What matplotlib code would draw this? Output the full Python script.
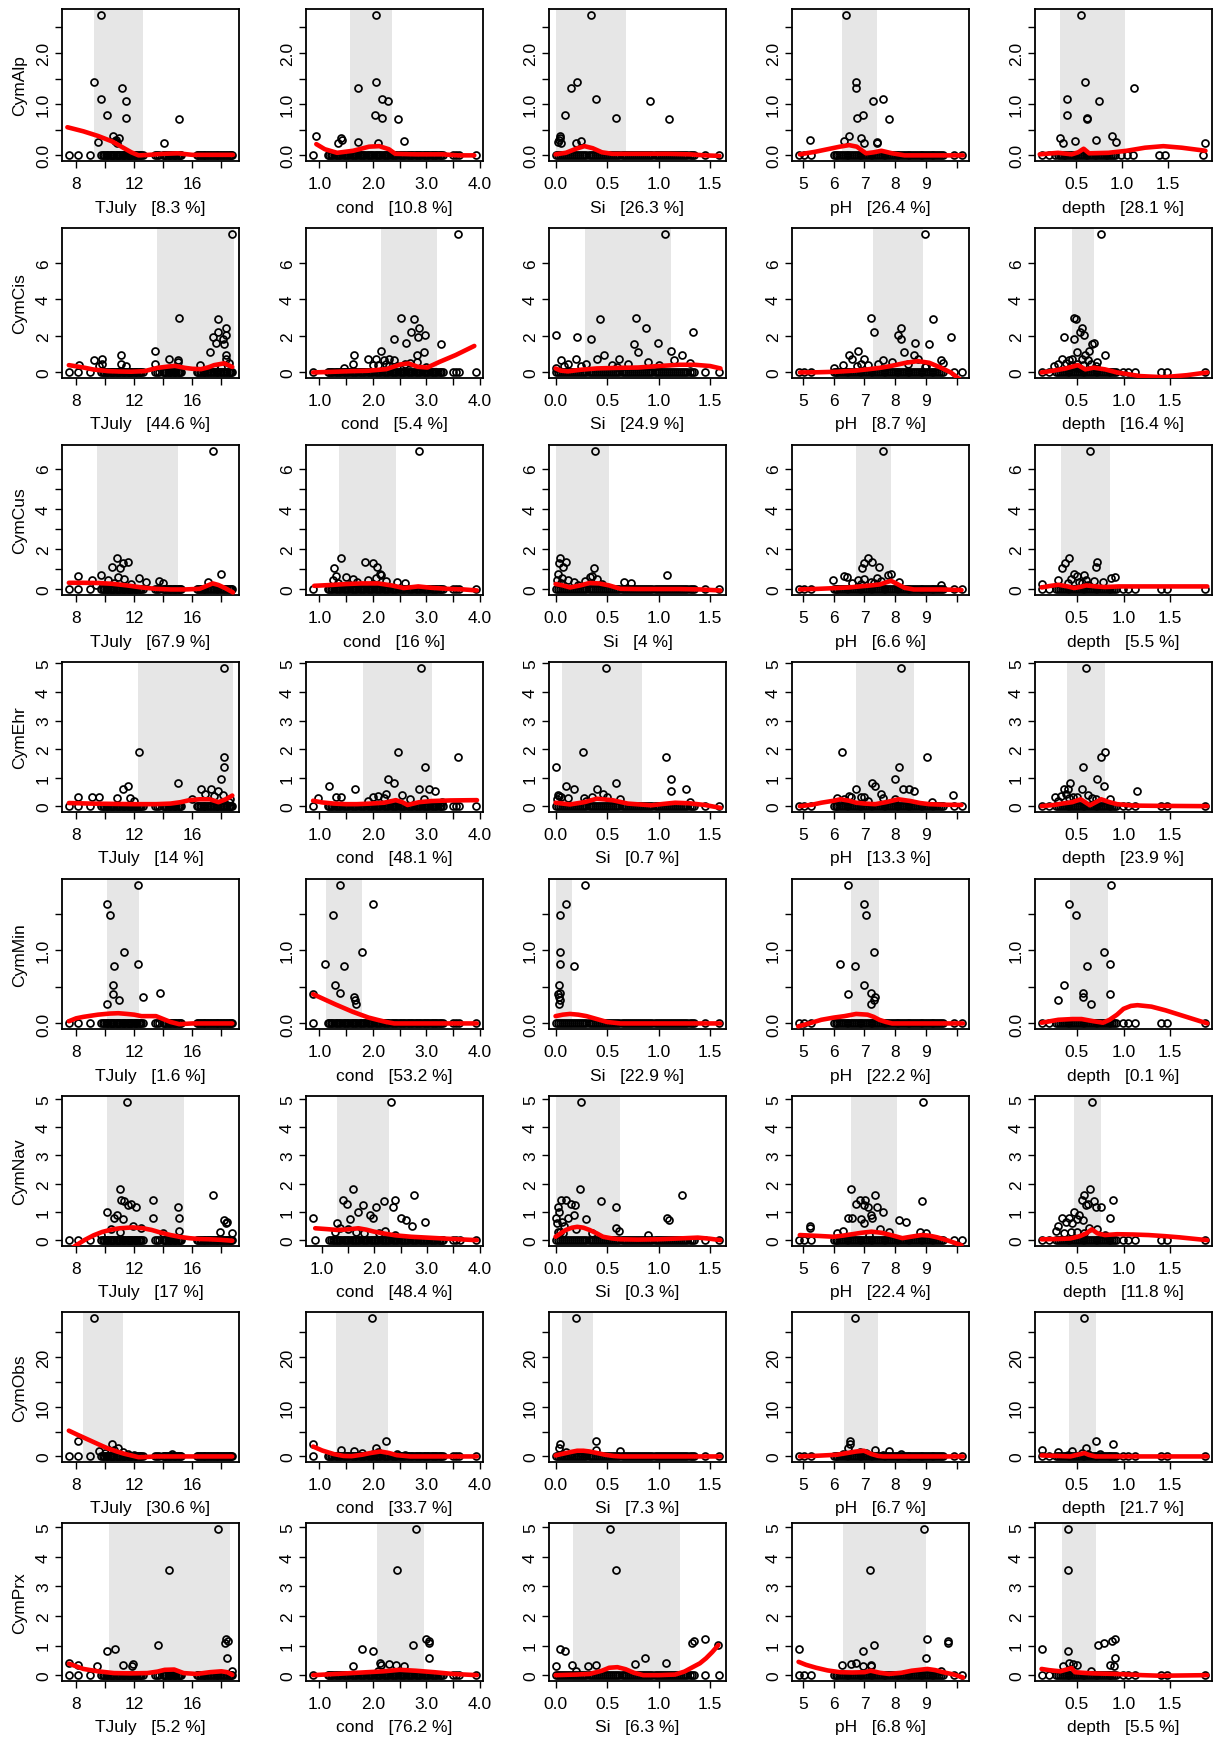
import matplotlib
matplotlib.use("Agg")
import matplotlib.pyplot as plt

plt.rcParams['font.family'] = ['Liberation Sans', 'DejaVu Sans']

# ---------------- data ----------------
species = ["CymAlp", "CymCis", "CymCus", "CymEhr", "CymMin", "CymNav", "CymObs", "CymPrx"]
variables = ["TJuly", "cond", "Si", "pH", "depth"]

# sites where the taxon is absent (abundance 0), per environmental variable
TJuly_zero = [7.48, 8.13, 8.98, 9.74, 9.86, 9.95, 10.04, 10.12, 10.2, 10.3, 10.38, 10.46, 10.55, 10.63,
              10.72, 10.8, 10.88, 10.97, 11.05, 11.13, 11.22, 11.3, 11.38, 11.47, 11.55, 11.63, 11.72,
              11.8, 11.88, 11.97, 12.05, 12.13, 12.22, 12.3, 12.4, 12.5, 12.62, 13.45, 13.58, 13.7,
              13.95, 14.05, 14.14, 14.22, 14.3, 14.4, 14.48, 14.56, 14.65, 14.73, 14.82, 14.9, 14.98,
              15.07, 15.15, 15.23, 16.3, 16.4, 16.5, 16.6, 16.7, 16.8, 16.9, 17.0, 17.1, 17.2, 17.3,
              17.4, 17.5, 17.6, 17.7, 17.8, 17.9, 18.0, 18.1, 18.2, 18.3, 18.4, 18.5, 18.6, 18.68, 18.76]
cond_zero = [0.87, 1.15, 1.18, 1.21, 1.24, 1.27, 1.3, 1.33, 1.36, 1.39, 1.42, 1.45, 1.48, 1.51, 1.54,
             1.57, 1.6, 1.63, 1.66, 1.69, 1.72, 1.75, 1.78, 1.81, 1.84, 1.87, 1.9, 1.93, 1.96, 1.99, 2.02,
             2.05, 2.08, 2.11, 2.14, 2.17, 2.2, 2.23, 2.26, 2.29, 2.32, 2.35, 2.38, 2.41, 2.44, 2.47, 2.5,
             2.53, 2.56, 2.59, 2.62, 2.65, 2.68, 2.71, 2.74, 2.77, 2.8, 2.83, 2.86, 2.89, 2.92, 2.95,
             2.98, 3.01, 3.04, 3.07, 3.1, 3.13, 3.16, 3.19, 3.22, 3.25, 3.28, 3.31, 3.5, 3.56, 3.62, 3.94]
Si_zero = [0.0, 0.02, 0.04, 0.06, 0.08, 0.1, 0.12, 0.14, 0.16, 0.18, 0.2, 0.22, 0.24, 0.26, 0.28, 0.3,
           0.32, 0.34, 0.36, 0.38, 0.4, 0.42, 0.44, 0.46, 0.48, 0.5, 0.52, 0.54, 0.56, 0.58, 0.6, 0.62,
           0.64, 0.66, 0.68, 0.7, 0.72, 0.74, 0.76, 0.78, 0.8, 0.82, 0.84, 0.86, 0.88, 0.9, 0.92, 0.94,
           0.96, 0.98, 1.0, 1.02, 1.04, 1.06, 1.08, 1.1, 1.12, 1.14, 1.16, 1.18, 1.2, 1.22, 1.24, 1.26,
           1.28, 1.3, 1.32, 1.34, 1.45, 1.59]
pH_zero = [4.86, 5.03, 5.25, 6.0, 6.06, 6.12, 6.18, 6.24, 6.3, 6.36, 6.42, 6.48, 6.54, 6.6, 6.66, 6.72,
           6.78, 6.84, 6.9, 6.96, 7.02, 7.08, 7.14, 7.2, 7.26, 7.32, 7.38, 7.44, 7.5, 7.56, 7.62, 7.68,
           7.74, 7.8, 7.86, 7.92, 7.98, 8.04, 8.1, 8.16, 8.22, 8.28, 8.34, 8.4, 8.46, 8.52, 8.58, 8.64,
           8.7, 8.76, 8.82, 8.88, 8.94, 9.0, 9.06, 9.12, 9.18, 9.24, 9.3, 9.36, 9.42, 9.48, 9.54, 9.9, 10.18]
depth_zero = [0.12, 0.2, 0.27, 0.3, 0.32, 0.34, 0.36, 0.38, 0.4, 0.42, 0.44, 0.46, 0.48, 0.5, 0.52, 0.54,
              0.56, 0.58, 0.6, 0.62, 0.64, 0.66, 0.68, 0.7, 0.72, 0.74, 0.76, 0.78, 0.8, 0.82, 0.84, 0.86,
              0.88, 0.9, 0.92, 0.99, 1.05, 1.12, 1.4, 1.47, 1.88]
zero_sites = {"TJuly": TJuly_zero, "cond": cond_zero, "Si": Si_zero, "pH": pH_zero, "depth": depth_zero}

# non-zero abundances and their environmental values
CymAlp_y = [2.75, 1.43, 1.32, 1.11, 1.07, 0.79, 0.73, 0.71, 0.38, 0.33, 0.31, 0.28, 0.27, 0.25, 0.24]
CymAlp_x = {
    "TJuly": [9.74, 9.21, 11.16, 9.74, 11.46, 10.13, 11.46, 15.11, 10.54, 10.93, 10.75, 10.65, 9.48, 14.03, 10.8],
    "cond": [2.06, 2.06, 1.72, 2.18, 2.28, 2.04, 2.17, 2.47, 0.94, 1.40, 1.42, 2.59, 1.72, 2.09, 1.34],
    "Si": [0.346, 0.204, 0.147, 0.39, 0.913, 0.093, 0.59, 1.10, 0.04, 0.04, 0.03, 0.25, 0.02, 0.20, 0.05],
    "pH": [6.41, 6.71, 6.71, 7.59, 7.27, 6.95, 6.76, 7.79, 6.50, 6.90, 5.22, 6.34, 7.4, 7.0, 7.42],
    "depth": [0.55, 0.59, 1.13, 0.40, 0.75, 0.40, 0.62, 0.62, 0.89, 0.32, 0.71, 0.48, 0.93, 0.35, 1.91]}

CymCis_y = [7.6, 3.0, 2.95, 2.44, 2.22, 2.04, 1.95, 1.85, 1.6, 1.58, 1.18, 1.13, 0.95, 0.95, 0.76, 0.76,
            0.71, 0.7, 0.67, 0.55, 0.5, 0.44, 0.44, 0.44, 0.4, 0.4, 0.36, 0.36, 0.3, 0.25]
CymCis_x = {
    "TJuly": [18.75, 15.1, 17.75, 18.3, 17.75, 18.35, 17.45, 18.1, 17.6, 18.2, 13.4, 17.2, 11.1, 18.35, 18.3,
              9.8, 14.4, 9.2, 15.0, 15.0, 18.5, 9.75, 11.1, 13.4, 16.5, 8.2, 11.4, 9.6, 18.0, 17.5],
    "cond": [3.59, 2.53, 2.77, 2.87, 2.72, 2.97, 2.85, 2.39, 2.62, 3.27, 2.15, 2.95, 1.65, 2.82, 2.3, 1.9,
             2.05, 2.2, 2.4, 2.82, 2.7, 1.62, 2.25, 2.6, 2.1, 2.0, 2.45, 2.3, 3.0, 1.45],
    "Si": [1.06, 0.78, 0.43, 0.88, 1.33, 0.0, 0.21, 0.34, 0.99, 0.76, 1.12, 0.8, 0.47, 1.23, 0.62, 0.2,
           0.4, 1.15, 0.05, 0.9, 1.3, 0.12, 0.3, 0.7, 0.55, 1.0, 0.25, 0.08, 0.6, 0.0],
    "pH": [8.98, 7.22, 9.23, 8.2, 7.3, 8.1, 9.8, 8.18, 8.65, 9.1, 6.8, 8.28, 6.5, 8.6, 7.0, 8.75, 6.6, 7.6,
           9.5, 7.9, 9.55, 6.9, 7.45, 8.4, 6.3, 7.1, 9.0, 6.75, 8.95, 6.0],
    "depth": [0.76, 0.47, 0.49, 0.55, 0.53, 0.58, 0.36, 0.47, 0.68, 0.66, 0.63, 0.5, 0.59, 0.8, 0.34, 0.45,
              0.55, 0.42, 0.62, 0.72, 0.38, 0.3, 0.5, 0.65, 0.57, 0.44, 0.25, 0.7, 0.48, 0.52]}

CymCus_y = [6.9, 1.57, 1.35, 1.32, 1.1, 1.07, 0.77, 0.73, 0.65, 0.6, 0.55, 0.5, 0.48, 0.45, 0.4, 0.37,
            0.35, 0.3, 0.3, 0.25, 0.2]
CymCus_x = {
    "TJuly": [17.4, 10.8, 11.6, 11.2, 10.5, 11.0, 18.0, 9.7, 8.1, 10.9, 12.3, 11.3, 9.1, 10.2, 13.7, 17.1,
              12.8, 14.0, 10.6, 11.8, 9.4],
    "cond": [2.87, 1.41, 1.85, 2.0, 2.07, 1.28, 2.14, 2.15, 1.3, 1.5, 2.05, 1.62, 1.25, 1.9, 2.25, 2.45,
             1.7, 2.6, 1.35, 2.0, 1.55],
    "Si": [0.38, 0.04, 0.1, 0.03, 0.07, 0.37, 0.02, 1.08, 0.35, 0.33, 0.06, 0.4, 0.12, 0.01, 0.29, 0.18,
           0.66, 0.05, 0.73, 0.45, 0.22],
    "pH": [7.6, 7.1, 7.23, 6.98, 7.48, 6.93, 7.86, 7.75, 6.35, 6.42, 7.4, 7.0, 5.97, 6.8, 7.55, 8.11, 7.2,
           6.6, 7.3, 6.9, 9.49],
    "depth": [0.64, 0.41, 0.72, 0.37, 0.7, 0.34, 0.47, 0.58, 0.5, 0.91, 0.87, 0.44, 0.6, 0.3, 0.68, 0.52,
              0.78, 0.4, 0.55, 0.13, 0.62]}

CymEhr_y = [4.85, 1.91, 1.74, 1.36, 0.95, 0.83, 0.72, 0.62, 0.6, 0.6, 0.55, 0.45, 0.4, 0.35, 0.34, 0.34,
            0.33, 0.3, 0.28, 0.25, 0.25, 0.2, 0.15]
CymEhr_x = {
    "TJuly": [18.2, 12.3, 18.2, 18.2, 18.0, 15.0, 11.6, 17.3, 11.2, 16.6, 17.8, 16.9, 18.1, 17.5, 8.1, 9.1,
              9.6, 10.8, 11.7, 18.6, 16.0, 12.0, 18.5],
    "cond": [2.9, 2.47, 3.59, 2.98, 2.29, 2.4, 1.17, 2.87, 1.66, 3.05, 3.16, 2.25, 2.55, 2.1, 1.41, 2.0,
             1.3, 2.2, 0.98, 2.7, 2.95, 1.9, 3.3],
    "Si": [0.49, 0.27, 1.07, 0.0, 1.12, 0.59, 0.1, 0.4, 0.18, 1.27, 1.12, 0.46, 0.02, 0.03, 0.35, 0.05,
           0.5, 0.28, 0.12, 0.63, 0.01, 0.3, 1.3],
    "pH": [8.18, 6.27, 9.04, 8.11, 7.98, 7.23, 7.35, 8.25, 6.73, 8.45, 8.6, 7.55, 9.87, 6.5, 6.55, 6.9,
           7.0, 6.1, 7.6, 6.35, 8.0, 7.1, 9.2],
    "depth": [0.6, 0.8, 0.76, 0.57, 0.72, 0.43, 0.79, 0.4, 0.36, 0.55, 1.14, 0.38, 0.62, 0.33, 0.26, 0.46,
              0.5, 0.66, 0.42, 0.85, 0.7, 0.3, 0.75]}

CymMin_y = [1.9, 1.63, 1.48, 0.98, 0.81, 0.78, 0.53, 0.42, 0.40, 0.36, 0.32, 0.26]
CymMin_x = {
    "TJuly": [12.24, 10.11, 10.34, 11.32, 12.24, 10.62, 10.53, 13.78, 10.53, 12.63, 10.97, 10.11],
    "cond": [1.38, 2.0, 1.26, 1.79, 1.1, 1.46, 1.29, 1.38, 0.88, 1.65, 1.66, 1.69],
    "Si": [0.29, 0.1, 0.04, 0.04, 0.04, 0.18, 0.03, 0.04, 0.02, 0.03, 0.04, 0.03],
    "pH": [6.47, 6.98, 7.05, 7.3, 6.22, 6.68, 6.98, 7.2, 6.47, 7.35, 7.3, 7.22],
    "depth": [0.87, 0.41, 0.49, 0.79, 0.86, 0.61, 0.36, 0.57, 0.86, 0.57, 0.3, 0.65]}

CymNav_y = [4.9, 1.8, 1.61, 1.43, 1.43, 1.38, 1.3, 1.25, 1.19, 1.19, 1.02, 0.9, 0.8, 0.78, 0.78, 0.75,
            0.72, 0.65, 0.62, 0.5, 0.45, 0.4, 0.35, 0.31, 0.3, 0.25, 0.25, 0.2]
CymNav_x = {
    "TJuly": [11.5, 11.0, 17.4, 11.1, 13.3, 11.3, 11.8, 11.6, 12.1, 15.0, 10.1, 10.8, 10.6, 15.1, 13.3,
              11.2, 18.2, 18.4, 18.3, 11.9, 12.5, 10.4, 15.1, 17.9, 11.0, 18.7, 14.0, 9.7],
    "cond": [2.31, 1.6, 2.75, 1.41, 2.39, 2.18, 1.49, 1.78, 2.36, 2.04, 1.7, 1.92, 1.97, 0.83, 2.5, 1.55,
             2.6, 2.97, 1.3, 2.72, 1.35, 1.5, 2.2, 1.25, 1.65, 2.1, 1.8, 2.4],
    "Si": [0.25, 0.24, 1.23, 0.05, 0.1, 0.44, 0.15, 0.19, 0.59, 0.02, 0.03, 0.18, 1.08, 0.0, 0.12, 0.3,
           1.1, 0.06, 0.01, 0.08, 0.59, 0.2, 0.62, 0.04, 0.02, 0.35, 0.07, 0.9],
    "pH": [8.91, 6.55, 7.35, 6.85, 7.03, 8.86, 6.73, 6.98, 7.4, 7.1, 7.6, 7.2, 6.47, 6.6, 7.25, 6.9, 8.11,
           8.36, 7.0, 5.22, 5.22, 7.5, 6.3, 8.8, 7.8, 6.1, 9.0, 7.15],
    "depth": [0.66, 0.64, 0.58, 0.55, 0.89, 0.68, 0.62, 0.6, 0.76, 0.7, 0.47, 0.52, 0.85, 0.34, 0.41, 0.5,
              0.56, 0.38, 0.45, 0.3, 0.63, 0.72, 0.27, 0.44, 0.5, 0.58, 0.36, 0.8]}

CymObs_y = [28, 3.05, 2.5, 1.7, 1.2, 1.0, 0.8, 0.6, 0.5, 0.4, 0.3]
CymObs_x = {
    "TJuly": [9.2, 8.1, 10.5, 10.9, 10.6, 9.6, 11.2, 10.0, 14.6, 11.6, 12.0],
    "cond": [1.98, 2.25, 0.88, 2.05, 1.4, 1.65, 2.1, 1.8, 2.45, 2.0, 2.6],
    "Si": [0.2, 0.39, 0.04, 0.03, 0.39, 0.63, 0.1, 0.25, 0.15, 0.3, 0.05],
    "pH": [6.68, 6.52, 6.52, 6.45, 7.35, 7.8, 6.85, 7.05, 8.2, 6.3, 7.6],
    "depth": [0.58, 0.7, 0.89, 0.6, 0.13, 0.45, 0.3, 0.55, 0.62, 0.75, 0.4]}

CymPrx_y = [4.95, 3.55, 1.23, 1.17, 1.1, 1.01, 0.9, 0.81, 0.57, 0.42, 0.39, 0.33, 0.33, 0.31, 0.31, 0.15]
CymPrx_x = {
    "TJuly": [17.75, 14.42, 18.32, 18.47, 18.26, 13.62, 10.68, 10.15, 18.37, 7.5, 11.9, 11.25, 8.15, 9.47,
              11.85, 18.75],
    "cond": [2.8, 2.45, 2.99, 3.06, 3.06, 2.75, 1.79, 2.0, 3.06, 2.14, 2.31, 2.15, 2.43, 2.58, 1.63, 2.1],
    "Si": [0.53, 0.59, 1.45, 1.34, 1.32, 1.58, 0.045, 0.093, 0.87, 1.07, 0.775, 0.39, 0.16, 0.0, 0.31, 0.2],
    "pH": [8.92, 7.18, 9.04, 9.7, 9.7, 7.3, 4.86, 6.95, 9.0, 6.72, 6.55, 6.28, 7.2, 6.95, 7.22, 9.5],
    "depth": [0.4, 0.4, 0.91, 0.88, 0.79, 0.73, 0.13, 0.4, 0.91, 0.42, 0.46, 0.86, 0.5, 0.9, 0.35, 0.65]}

# shaded optimum ranges (grey bands)
CymAlp_band = {"TJuly": (9.21, 12.61), "cond": (1.57, 2.35), "Si": (0.0, 0.68), "pH": (6.26, 7.41), "depth": (0.32, 1.03)}
CymCis_band = {"TJuly": (13.6, 18.9), "cond": (2.16, 3.2), "Si": (0.29, 1.12), "pH": (7.27, 8.9), "depth": (0.45, 0.68)}
CymCus_band = {"TJuly": (9.44, 15.04), "cond": (1.37, 2.43), "Si": (0.0, 0.52), "pH": (6.73, 7.86), "depth": (0.33, 0.85)}
CymEhr_band = {"TJuly": (12.26, 18.8), "cond": (1.82, 3.1), "Si": (0.064, 0.84), "pH": (6.73, 8.61), "depth": (0.39, 0.8)}
CymMin_band = {"TJuly": (10.11, 12.35), "cond": (1.12, 1.79), "Si": (0.0, 0.16), "pH": (6.55, 7.48), "depth": (0.43, 0.83)}
CymNav_band = {"TJuly": (10.13, 15.41), "cond": (1.3, 2.29), "Si": (0.0, 0.63), "pH": (6.55, 8.06), "depth": (0.47, 0.76)}
CymObs_band = {"TJuly": (8.48, 11.2), "cond": (1.3, 2.29), "Si": (0.064, 0.365), "pH": (6.35, 7.43), "depth": (0.41, 0.7)}
CymPrx_band = {"TJuly": (10.29, 18.6), "cond": (2.08, 2.96), "Si": (0.17, 1.21), "pH": (6.29, 8.99), "depth": (0.34, 0.71)}

# smoothed response curves (red)
CymAlp_fit = {
    "TJuly": ([7.4, 8.5, 9.5, 10.5, 11.3, 11.8, 12.3, 13.0, 14.0, 15.0, 16.0, 17.0, 18.8],
              [0.55, 0.47, 0.38, 0.27, 0.14, 0.06, 0.0, 0.01, 0.03, 0.04, 0.01, 0.01, 0.01]),
    "cond": ([0.94, 1.1, 1.33, 1.63, 1.93, 2.12, 2.30, 2.42, 2.8, 3.3, 3.6, 3.9],
             [0.22, 0.12, 0.05, 0.09, 0.17, 0.18, 0.12, 0.03, 0.02, 0.02, 0.0, 0.0]),
    "Si": ([0.0, 0.1, 0.2, 0.28, 0.36, 0.45, 0.55, 0.8, 1.1, 1.3, 1.45, 1.59],
           [0.02, 0.05, 0.13, 0.18, 0.14, 0.06, 0.03, 0.03, 0.03, 0.02, 0.0, -0.01]),
    "pH": ([4.9, 5.4, 5.8, 6.2, 6.5, 6.75, 7.05, 7.3, 7.55, 7.9, 8.3, 9.0, 10.2],
           [0.02, 0.07, 0.12, 0.17, 0.20, 0.17, 0.04, 0.06, 0.09, 0.04, 0.0, 0.0, 0.0]),
    "depth": ([0.1, 0.3, 0.45, 0.52, 0.58, 0.64, 0.85, 1.05, 1.25, 1.45, 1.65, 1.91],
              [0.02, 0.05, 0.02, 0.06, 0.13, 0.04, 0.05, 0.09, 0.15, 0.18, 0.15, 0.09])}
CymCis_fit = {
    "TJuly": ([7.5, 8.5, 9.2, 10.2, 11.0, 11.8, 12.7, 13.6, 14.3, 14.8, 15.5, 16.0, 16.6, 17.1, 17.5, 18.2, 18.75],
              [0.40, 0.27, 0.16, 0.07, 0.05, 0.04, 0.07, 0.25, 0.32, 0.36, 0.25, 0.2, 0.18, 0.28, 0.4, 0.5, 0.3]),
    "cond": ([0.88, 1.2, 1.6, 1.9, 2.25, 2.52, 2.67, 2.84, 3.02, 3.25, 3.55, 3.9],
             [0.0, 0.03, 0.07, 0.09, 0.18, 0.44, 0.49, 0.31, 0.27, 0.58, 0.95, 1.45]),
    "Si": ([0.0, 0.05, 0.12, 0.25, 0.4, 0.6, 0.8, 1.0, 1.2, 1.35, 1.5, 1.6],
           [0.22, 0.1, 0.06, 0.15, 0.22, 0.25, 0.27, 0.35, 0.42, 0.42, 0.35, 0.22]),
    "pH": ([4.9, 5.5, 6.1, 6.7, 7.1, 7.5, 7.85, 8.35, 8.73, 9.1, 9.48, 9.8, 10.15],
           [0.0, 0.01, 0.04, 0.1, 0.17, 0.25, 0.35, 0.53, 0.62, 0.53, 0.26, 0.0, -0.45]),
    "depth": ([0.12, 0.25, 0.38, 0.51, 0.59, 0.68, 0.8, 0.93, 1.18, 1.43, 1.68, 1.9],
              [0.0, 0.1, 0.22, 0.4, 0.17, 0.26, 0.17, 0.0, -0.2, -0.26, -0.15, 0.0])}
CymCus_fit = {
    "TJuly": ([7.5, 8.5, 9.5, 10.5, 11.5, 12.5, 13.5, 14.5, 15.5, 16.5, 17.0, 17.4, 17.8, 18.3, 18.8],
              [0.33, 0.33, 0.32, 0.28, 0.2, 0.1, 0.03, 0.0, 0.0, 0.03, 0.18, 0.3, 0.22, 0.05, -0.15]),
    "cond": ([0.9, 1.2, 1.5, 1.8, 2.1, 2.35, 2.58, 2.85, 3.1, 3.4, 3.7, 3.95],
             [0.18, 0.22, 0.27, 0.3, 0.3, 0.2, 0.07, 0.15, 0.08, 0.03, 0.0, -0.05]),
    "Si": ([0.0, 0.07, 0.14, 0.24, 0.33, 0.42, 0.52, 0.63, 0.8, 1.0, 1.2, 1.4, 1.6],
           [0.27, 0.2, 0.1, 0.2, 0.32, 0.3, 0.2, 0.03, 0.02, 0.02, 0.02, 0.0, -0.05]),
    "pH": ([4.9, 5.5, 6.1, 6.5, 6.85, 7.2, 7.5, 7.7, 7.86, 8.05, 8.3, 8.6, 9.0, 9.5, 10.15],
           [0.0, 0.03, 0.07, 0.1, 0.15, 0.2, 0.25, 0.35, 0.43, 0.28, 0.08, 0.0, 0.0, 0.0, -0.03]),
    "depth": ([0.12, 0.22, 0.3, 0.4, 0.47, 0.54, 0.6, 0.7, 0.8, 0.95, 1.2, 1.5, 1.9],
              [0.1, 0.18, 0.23, 0.15, 0.07, 0.13, 0.2, 0.15, 0.12, 0.15, 0.15, 0.15, 0.15])}
CymEhr_fit = {
    "TJuly": ([7.5, 9, 10.5, 12, 13.5, 14.5, 15.2, 15.8, 16.5, 17.2, 17.8, 18.3, 18.75],
              [0.12, 0.1, 0.09, 0.08, 0.08, 0.1, 0.15, 0.22, 0.25, 0.25, 0.15, 0.25, 0.38]),
    "cond": ([0.88, 1.05, 1.27, 1.5, 1.7, 1.95, 2.21, 2.43, 2.55, 2.65, 2.87, 3.1, 3.45, 3.95],
             [0.2, 0.14, 0.1, 0.08, 0.08, 0.1, 0.13, 0.22, 0.15, 0.05, 0.15, 0.19, 0.21, 0.22]),
    "Si": ([0.0, 0.14, 0.28, 0.4, 0.55, 0.7, 0.93, 1.05, 1.16, 1.3, 1.45, 1.6],
           [0.13, 0.07, 0.15, 0.27, 0.22, 0.1, 0.04, 0.09, 0.13, 0.11, 0.05, -0.05]),
    "pH": ([4.9, 5.3, 5.6, 6.0, 6.22, 6.5, 6.73, 7.0, 7.35, 7.7, 8.1, 8.49, 8.8, 9.1, 9.6, 10.15],
           [0.01, 0.06, 0.13, 0.2, 0.25, 0.2, 0.13, 0.1, 0.08, 0.15, 0.25, 0.19, 0.12, 0.08, 0.06, 0.05]),
    "depth": ([0.12, 0.25, 0.34, 0.45, 0.54, 0.64, 0.76, 0.85, 0.93, 1.1, 1.4, 1.9],
              [0.01, 0.05, 0.1, 0.15, 0.25, 0.04, 0.25, 0.15, 0.08, 0.03, 0.02, 0.01])}
CymMin_fit = {
    "TJuly": ([7.5, 8.0, 8.5, 9.5, 10.3, 10.9, 11.5, 12.0, 12.5, 13.0, 13.5, 14.0, 14.5, 15.1, 16.0, 17.0, 18.0, 18.75],
              [0.03, 0.07, 0.09, 0.12, 0.135, 0.14, 0.13, 0.12, 0.1, 0.1, 0.1, 0.06, 0.02, -0.01, 0.0, 0.0, 0.0, 0.0]),
    "cond": ([0.88, 1.0, 1.15, 1.3, 1.46, 1.62, 1.77, 1.92, 2.08, 2.25, 2.4, 3.0, 3.5, 3.95],
             [0.4, 0.36, 0.31, 0.26, 0.21, 0.16, 0.12, 0.08, 0.05, 0.02, 0.0, 0.0, 0.0, 0.0]),
    "Si": ([0.0, 0.07, 0.14, 0.22, 0.3, 0.4, 0.5, 0.63, 1.0, 1.6],
           [0.1, 0.12, 0.13, 0.12, 0.1, 0.06, 0.02, 0.0, 0.0, 0.0]),
    "pH": ([4.85, 5.2, 5.6, 6.0, 6.35, 6.73, 7.1, 7.3, 7.48, 7.7, 7.9, 8.5, 9.5, 10.2],
           [-0.04, 0.0, 0.05, 0.08, 0.1, 0.13, 0.12, 0.09, 0.05, 0.02, 0.0, 0.0, 0.0, 0.0]),
    "depth": ([0.12, 0.3, 0.45, 0.55, 0.68, 0.78, 0.85, 0.93, 1.0, 1.08, 1.15, 1.3, 1.45, 1.6, 1.75, 1.9],
              [0.01, 0.05, 0.06, 0.06, 0.03, 0.01, 0.05, 0.12, 0.2, 0.24, 0.25, 0.23, 0.18, 0.12, 0.06, 0.0])}
CymNav_fit = {
    "TJuly": ([7.5, 8.0, 8.6, 9.2, 9.8, 10.4, 11.0, 11.9, 12.6, 13.2, 13.8, 14.5, 15.2, 15.8, 16.5, 17.2, 18.0, 18.75],
              [-0.35, -0.17, 0.02, 0.18, 0.3, 0.38, 0.43, 0.46, 0.43, 0.37, 0.28, 0.19, 0.12, 0.08, 0.05, 0.04, 0.02, -0.01]),
    "cond": ([0.88, 1.1, 1.3, 1.5, 1.7, 1.85, 2.0, 2.2, 2.4, 2.7, 3.0, 3.4, 3.95],
             [0.43, 0.4, 0.37, 0.39, 0.43, 0.38, 0.31, 0.24, 0.18, 0.13, 0.1, 0.06, 0.01]),
    "Si": ([0.0, 0.05, 0.1, 0.16, 0.21, 0.27, 0.33, 0.4, 0.46, 0.55, 0.63, 0.8, 1.0, 1.2, 1.38, 1.5, 1.6],
           [0.13, 0.25, 0.37, 0.45, 0.48, 0.45, 0.37, 0.25, 0.13, 0.07, 0.04, 0.03, 0.04, 0.07, 0.1, 0.06, 0.01]),
    "pH": ([4.9, 5.5, 6.0, 6.3, 6.6, 6.9, 7.23, 7.55, 7.86, 8.23, 8.5, 8.86, 9.1, 9.36, 9.7, 10.15],
           [0.19, 0.16, 0.13, 0.17, 0.22, 0.27, 0.31, 0.27, 0.19, 0.08, 0.13, 0.19, 0.17, 0.11, 0.0, -0.17]),
    "depth": ([0.12, 0.3, 0.43, 0.53, 0.6, 0.66, 0.72, 0.8, 0.93, 1.1, 1.27, 1.45, 1.6, 1.75, 1.9],
              [0.04, 0.05, 0.07, 0.15, 0.25, 0.39, 0.25, 0.19, 0.22, 0.21, 0.19, 0.15, 0.11, 0.06, 0.01])}
CymObs_fit = {
    "TJuly": ([7.5, 8.0, 8.6, 9.2, 9.7, 10.2, 10.8, 11.3, 11.8, 12.3, 12.8, 13.5, 15.0, 16.5, 18.75],
              [5.2, 4.5, 3.7, 2.9, 2.24, 1.6, 1.0, 0.55, 0.2, -0.15, -0.1, 0.0, 0.0, 0.0, 0.0]),
    "cond": ([0.88, 1.05, 1.27, 1.45, 1.6, 1.8, 1.95, 2.14, 2.3, 2.45, 2.7, 3.2, 3.95],
             [2.0, 1.2, 0.47, 0.1, 0.05, 0.35, 0.68, 1.0, 0.7, 0.25, 0.0, 0.0, 0.0]),
    "Si": ([0.0, 0.05, 0.1, 0.16, 0.21, 0.27, 0.33, 0.4, 0.48, 0.56, 0.63, 1.0, 1.6],
           [0.2, 0.45, 0.68, 0.95, 1.15, 1.15, 1.0, 0.7, 0.34, 0.1, 0.0, 0.0, 0.0]),
    "pH": ([4.9, 5.5, 6.1, 6.4, 6.73, 6.98, 7.23, 7.45, 7.6, 8.5, 10.2],
           [0.0, 0.15, 0.34, 0.65, 1.0, 1.15, 0.47, 0.1, 0.0, 0.0, 0.0]),
    "depth": ([0.12, 0.3, 0.43, 0.52, 0.58, 0.63, 0.7, 0.93, 1.3, 1.9],
              [0.2, 0.1, 0.0, 0.4, 0.68, 0.3, 0.0, 0.0, 0.0, 0.0])}
CymPrx_fit = {
    "TJuly": ([7.5, 8.0, 8.5, 9.5, 10.6, 11.8, 12.9, 13.6, 14.1, 14.75, 15.4, 16.3, 17.2, 18.0, 18.4, 18.75],
              [0.39, 0.3, 0.21, 0.13, 0.07, 0.06, 0.07, 0.12, 0.18, 0.19, 0.07, 0.04, 0.1, 0.13, 0.1, 0.01]),
    "cond": ([0.88, 1.2, 1.6, 1.9, 2.2, 2.5, 2.8, 3.15, 3.5, 3.95],
             [0.0, 0.03, 0.07, 0.1, 0.13, 0.18, 0.15, 0.1, 0.04, 0.0]),
    "Si": ([0.0, 0.2, 0.33, 0.45, 0.52, 0.6, 0.68, 0.76, 0.85, 1.0, 1.16, 1.25, 1.33, 1.4, 1.46, 1.52, 1.58],
           [0.0, 0.02, 0.04, 0.15, 0.25, 0.27, 0.2, 0.08, 0.0, 0.0, 0.02, 0.12, 0.27, 0.4, 0.57, 0.78, 1.02]),
    "pH": ([4.86, 5.1, 5.43, 5.8, 6.2, 6.6, 7.0, 7.2, 7.5, 7.79, 8.2, 8.53, 9.04, 9.3, 9.55, 9.9, 10.2],
           [0.45, 0.35, 0.25, 0.16, 0.1, 0.09, 0.1, 0.15, 0.08, 0.04, 0.08, 0.15, 0.21, 0.17, 0.1, 0.02, -0.08]),
    "depth": ([0.12, 0.2, 0.32, 0.4, 0.44, 0.48, 0.56, 0.66, 0.92, 1.2, 1.4, 1.65, 1.9],
              [0.21, 0.17, 0.13, 0.2, 0.24, 0.1, 0.08, 0.06, 0.04, 0.0, -0.02, -0.01, 0.0])}

# explained-variance percentages shown in the axis titles
CymAlp_pct = ["8.3", "10.8", "26.3", "26.4", "28.1"]
CymCis_pct = ["44.6", "5.4", "24.9", "8.7", "16.4"]
CymCus_pct = ["67.9", "16", "4", "6.6", "5.5"]
CymEhr_pct = ["14", "48.1", "0.7", "13.3", "23.9"]
CymMin_pct = ["1.6", "53.2", "22.9", "22.2", "0.1"]
CymNav_pct = ["17", "48.4", "0.3", "22.4", "11.8"]
CymObs_pct = ["30.6", "33.7", "7.3", "6.7", "21.7"]
CymPrx_pct = ["5.2", "76.2", "6.3", "6.8", "5.5"]

# axis ticks
x_ticks = {"TJuly": [8, 10, 12, 14, 16, 18], "cond": [1.0, 1.5, 2.0, 2.5, 3.0, 3.5, 4.0],
           "Si": [0.0, 0.5, 1.0, 1.5], "pH": [5, 6, 7, 8, 9, 10], "depth": [0.5, 1.0, 1.5]}
x_ticklabels = {"TJuly": ["8", "", "12", "", "16", ""],
                "cond": ["1.0", "", "2.0", "", "3.0", "", "4.0"],
                "Si": ["0.0", "0.5", "1.0", "1.5"],
                "pH": ["5", "6", "7", "8", "9", ""],
                "depth": ["0.5", "1.0", "1.5"]}
y_ticks = {"CymAlp": [0.0, 0.5, 1.0, 1.5, 2.0, 2.5], "CymCis": [0, 2, 4, 6],
           "CymCus": [0, 1, 2, 3, 4, 5, 6], "CymEhr": [0, 1, 2, 3, 4, 5],
           "CymMin": [0.0, 0.5, 1.0, 1.5], "CymNav": [0, 1, 2, 3, 4, 5],
           "CymObs": [0, 5, 10, 15, 20, 25], "CymPrx": [0, 1, 2, 3, 4, 5]}
y_ticklabels = {"CymAlp": ["0.0", "", "1.0", "", "2.0", ""], "CymCis": ["0", "2", "4", "6"],
                "CymCus": ["0", "", "2", "", "4", "", "6"], "CymEhr": ["0", "1", "2", "3", "4", "5"],
                "CymMin": ["0.0", "", "1.0", ""], "CymNav": ["0", "1", "2", "3", "4", "5"],
                "CymObs": ["0", "", "10", "", "20", ""], "CymPrx": ["0", "1", "2", "3", "4", "5"]}

abund = {"CymAlp": (CymAlp_y, CymAlp_x), "CymCis": (CymCis_y, CymCis_x), "CymCus": (CymCus_y, CymCus_x),
         "CymEhr": (CymEhr_y, CymEhr_x), "CymMin": (CymMin_y, CymMin_x), "CymNav": (CymNav_y, CymNav_x),
         "CymObs": (CymObs_y, CymObs_x), "CymPrx": (CymPrx_y, CymPrx_x)}
bands = {"CymAlp": CymAlp_band, "CymCis": CymCis_band, "CymCus": CymCus_band, "CymEhr": CymEhr_band,
         "CymMin": CymMin_band, "CymNav": CymNav_band, "CymObs": CymObs_band, "CymPrx": CymPrx_band}
fits = {"CymAlp": CymAlp_fit, "CymCis": CymCis_fit, "CymCus": CymCus_fit, "CymEhr": CymEhr_fit,
        "CymMin": CymMin_fit, "CymNav": CymNav_fit, "CymObs": CymObs_fit, "CymPrx": CymPrx_fit}
pcts = {"CymAlp": CymAlp_pct, "CymCis": CymCis_pct, "CymCus": CymCus_pct, "CymEhr": CymEhr_pct,
        "CymMin": CymMin_pct, "CymNav": CymNav_pct, "CymObs": CymObs_pct, "CymPrx": CymPrx_pct}

# ---------------- layout ----------------
W, H = 1215, 1740
fig = plt.figure(figsize=(W / 100, H / 100), dpi=100)
col_left = [62, 306, 549, 792, 1035]
col_w = 177
row_top = [10, 229, 446, 663, 880, 1097, 1313, 1524]
row_h = [152, 150, 150, 150, 150, 150, 150, 158]
FS = 12.5


def r_range(vals):
    lo, hi = min(vals), max(vals)
    pad = 0.04 * (hi - lo)
    return lo - pad, hi + pad


for i, sp in enumerate(species):
    yv, xd = abund[sp]
    ylim = r_range([0.0] + list(yv))
    for j, var in enumerate(variables):
        left = col_left[j]
        top = row_top[i]
        h = row_h[i]
        ax = fig.add_axes([left / W, 1 - (top + h) / H, col_w / W, h / H])
        xs_all = list(zero_sites[var]) + list(xd[var])
        ax.set_xlim(*r_range(xs_all))
        ax.set_ylim(*ylim)
        b0, b1 = bands[sp][var]
        ax.axvspan(b0, b1, color="#e6e6e6", lw=0, zorder=0)
        ax.plot(zero_sites[var], [0.0] * len(zero_sites[var]), ls="none", marker="o", ms=5.0,
                mfc="none", mec="black", mew=1.25, zorder=2)
        ax.plot(xd[var], yv, ls="none", marker="o", ms=5.0, mfc="none", mec="black", mew=1.25, zorder=2)
        fx, fy = fits[sp][var]
        ax.plot(fx, fy, color="#ff0000", lw=3.3, solid_capstyle="round", solid_joinstyle="round", zorder=3)

        ax.set_xticks(x_ticks[var])
        ax.set_xticklabels(x_ticklabels[var], fontsize=FS)
        ax.set_yticks(y_ticks[sp])
        ax.set_yticklabels(y_ticklabels[sp], fontsize=FS, rotation=90, va="center")
        ax.tick_params(direction="out", length=5, width=1.0, color="black")
        ax.tick_params(axis="x", pad=5.5)
        ax.tick_params(axis="y", pad=3)
        for s in ax.spines.values():
            s.set_linewidth(1.3)
        ax.text(0.5, -46 / h, f"{var}   [{pcts[sp][j]} %]", transform=ax.transAxes,
                ha="center", va="center", fontsize=FS)
    fig.text(20 / W, 1 - (row_top[i] + row_h[i] / 2) / H, sp, rotation=90,
             ha="center", va="center", fontsize=FS)

fig.savefig("out.png", dpi=100)
